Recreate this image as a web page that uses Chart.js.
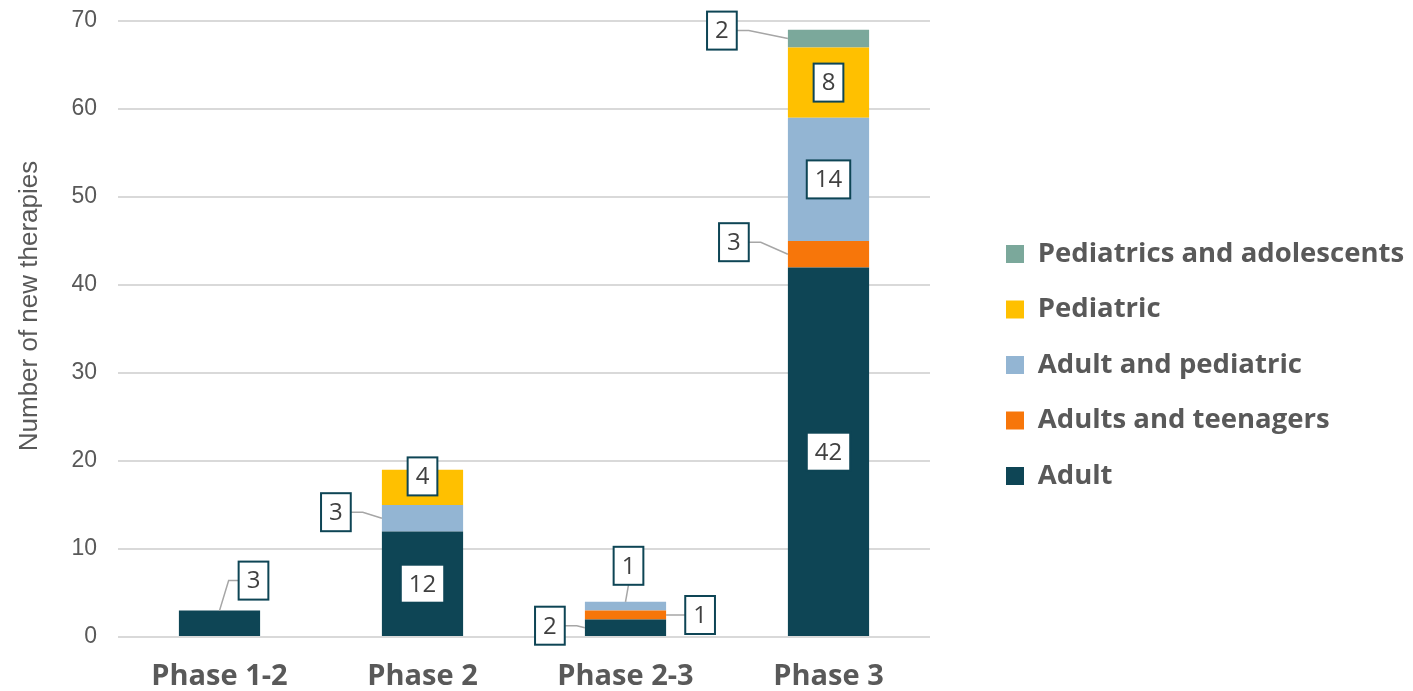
<!DOCTYPE html>
<html><head><meta charset="utf-8">
<script src="https://cdn.jsdelivr.net/npm/chart.js@4.4.1/dist/chart.umd.min.js"></script>
<style>html,body{margin:0;padding:0;background:#fff;overflow:hidden}</style>
</head><body>
<canvas id="c" width="1413" height="691"></canvas>
<script>
// ---- data ----
const categories = ['Phase 1-2', 'Phase 2', 'Phase 2-3', 'Phase 3'];
const adult = [3, 12, 2, 42];
const adultsTeenagers = [0, 0, 1, 3];
const adultPediatric = [0, 3, 1, 14];
const pediatric = [0, 4, 0, 8];
const pediatricsAdolescents = [0, 0, 0, 2];
const seriesNames = ['Adult', 'Adults and teenagers', 'Adult and pediatric', 'Pediatric', 'Pediatrics and adolescents'];
const seriesValues = [adult, adultsTeenagers, adultPediatric, pediatric, pediatricsAdolescents];
const yAxisTitle = 'Number of new therapies';

// ---- styles ----
const seriesColors = ['#0e4555', '#f7760a', '#93b5d3', '#ffc000', '#7ba89b'];
const textGrey = '#595959';
const boldFont = '"Open Sans", Lato, sans-serif';
// label box placement (dataset-category): side + offset of box centre
const labelPlan = {
  '0-0': {side: 'topRight', dx: 34, dy: -30},
  '2-1': {side: 'left', dx: -46, dy: -6},
  '3-1': {side: 'center', dx: 0, dy: -11},
  '0-2': {side: 'left', dx: -35, dy: -2},
  '1-2': {side: 'right', dx: 34, dy: 0},
  '2-2': {side: 'top', dx: 3, dy: -36},
  '1-3': {side: 'left', dx: -54, dy: -12},
  '4-3': {side: 'left', dx: -66, dy: -8}
};

const boxLabels = {
  id: 'boxLabels',
  afterDatasetsDraw(chart) {
    const ctx = chart.ctx;
    ctx.save();
    ctx.font = '24px "Open Sans"';
    const boxes = [];
    chart.data.datasets.forEach((ds, di) => {
      const meta = chart.getDatasetMeta(di);
      if (meta.hidden) return;
      meta.data.forEach((bar, i) => {
        const v = ds.data[i];
        if (!v) return;
        const p = labelPlan[di + '-' + i] || {side: 'center', dx: 0, dy: 0};
        const {x, y, base, width} = bar.getProps(['x', 'y', 'base', 'width'], true);
        const top = Math.min(y, base), bottom = Math.max(y, base);
        const mid = (top + bottom) / 2;
        const left = x - width / 2, right = x + width / 2;
        const text = String(v);
        const w = ctx.measureText(text).width + 16, h = 38;
        let bx, by, path = null;
        if (p.side === 'center') {
          bx = x + p.dx; by = mid + p.dy;
        } else if (p.side === 'left') {
          bx = left + p.dx; by = mid + p.dy;
          path = [[bx + w / 2, by], [bx + w / 2 + 12, by], [left, mid]];
        } else if (p.side === 'right') {
          bx = right + p.dx; by = mid + p.dy;
          path = [[right, mid], [bx - w / 2 - 10, by], [bx - w / 2, by]];
        } else if (p.side === 'top') {
          bx = x + p.dx; by = top + p.dy;
          path = [[x, top], [bx, by + h / 2]];
        } else if (p.side === 'topRight') {
          bx = x + p.dx; by = top + p.dy;
          path = [[x, top], [bx - w / 2 - 10, by], [bx - w / 2, by]];
        }
        boxes.push({bx, by, w, h, text, path});
      });
    });
    ctx.strokeStyle = '#a6a6a6';
    ctx.lineWidth = 1.5;
    boxes.forEach(b => {
      if (!b.path) return;
      ctx.beginPath();
      b.path.forEach((pt, k) => k ? ctx.lineTo(pt[0], pt[1]) : ctx.moveTo(pt[0], pt[1]));
      ctx.stroke();
    });
    boxes.forEach(b => {
      ctx.fillStyle = '#ffffff';
      ctx.fillRect(b.bx - b.w / 2, b.by - b.h / 2, b.w, b.h);
      ctx.strokeStyle = '#0e4555';
      ctx.lineWidth = 2;
      ctx.strokeRect(b.bx - b.w / 2, b.by - b.h / 2, b.w, b.h);
      ctx.fillStyle = '#404040';
      ctx.textAlign = 'center';
      ctx.textBaseline = 'middle';
      ctx.fillText(b.text, b.bx, b.by + 1);
    });
    ctx.restore();
  }
};

const LEGEND_W = 483;
const layoutTweaks = {
  id: 'layoutTweaks',
  afterInit(chart) {
    const lg = chart.legend;
    const fit = lg.fit.bind(lg);
    lg.fit = function () { fit(); this.width = LEGEND_W; };
  },
  afterLayout(chart) {
    const lg = chart.legend;
    const dx = 978 - lg.left;
    lg.left += dx; lg.right += dx;
    const dy = (730 - (lg.top + lg.bottom)) / 2;
    lg.top += dy; lg.bottom += dy;
    // y-axis title sits slightly above the plot's vertical centre
    const s = chart.scales.y;
    if (!s._titleShifted) {
      const orig = s.drawTitle.bind(s);
      s.drawTitle = function () {
        const b = this.bottom;
        this.bottom -= 46;
        orig();
        this.bottom = b;
      };
      s._titleShifted = true;
    }
  }
};

Chart.defaults.font.family = '"Liberation Sans", Arial, sans-serif';
Chart.defaults.color = textGrey;

new Chart(document.getElementById('c'), {
  type: 'bar',
  data: {
    labels: categories,
    datasets: seriesNames.map((name, k) => ({
      label: name,
      data: seriesValues[k],
      backgroundColor: seriesColors[k],
      borderWidth: 0,
      categoryPercentage: 1,
      barPercentage: 0.4
    }))
  },
  options: {
    responsive: false,
    devicePixelRatio: 1,
    animation: false,
    layout: {padding: {top: 21, left: 0, right: 0, bottom: 0}},
    plugins: {
      tooltip: {enabled: false},
      legend: {
        position: 'right',
        reverse: true,
        labels: {
          boxWidth: 18, boxHeight: 18, padding: 28,
          color: textGrey,
          font: {family: boldFont, size: 27.5, weight: 'bold'}
        }
      }
    },
    scales: {
      x: {
        stacked: true,
        grid: {display: false, drawTicks: false},
        border: {display: false},
        ticks: {color: textGrey, padding: 22, font: {family: boldFont, size: 29, weight: 'bold'}},
        afterFit(scale) { scale.height = 54; }
      },
      y: {
        stacked: true,
        min: 0, max: 70,
        ticks: {stepSize: 10, padding: 21, color: textGrey, font: {size: 23}},
        grid: {color: '#d9d9d9', lineWidth: 2, drawTicks: false},
        border: {display: false},
        title: {display: true, text: yAxisTitle, color: textGrey, font: {size: 26}, padding: {top: 14, bottom: 10}},
        afterFit(scale) { scale.width = 118; scale.paddingTop = 0; scale.paddingBottom = 0; }
      }
    }
  },
  plugins: [boxLabels, layoutTweaks]
});
</script>
</body></html>
